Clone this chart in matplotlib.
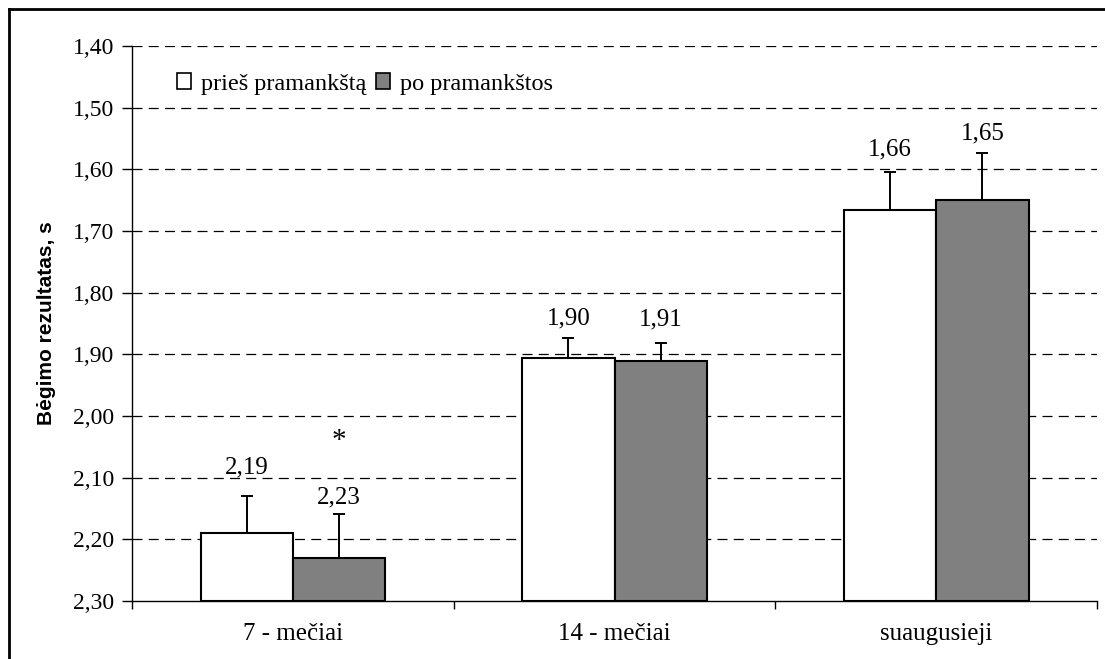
"""Running results before/after warm-up, grouped bars on an inverted time axis."""

import numpy as np
import matplotlib.pyplot as plt
from matplotlib.patches import Patch
from matplotlib.lines import Line2D


# ============================================================
# Data
# ============================================================
groups = ["7 - mečiai", "14 - mečiai", "suaugusieji"]
series_names = ["prieš pramankštą", "po pramankštos"]
before_vals = np.array([2.19, 1.906, 1.666])
after_vals = np.array([2.23, 1.911, 1.650])
before_err = np.array([0.06, 0.032, 0.061])
after_err = np.array([0.071, 0.030, 0.076])
before_labels = ["2,19", "1,90", "1,66"]
after_labels = ["2,23", "1,91", "1,65"]
star_group = 0  # significant change marked with *
star_y = 2.040

y_ticks = np.round(np.arange(1.40, 2.301, 0.10), 2)
y_tick_labels = [f"{v:.2f}".replace(".", ",") for v in y_ticks]
y_label = "Bėgimo rezultatas, s"

# ============================================================
# Plot
# ============================================================
serif = ["Liberation Serif", "DejaVu Serif"]
sans = ["Liberation Sans", "DejaVu Sans"]

# label offsets above the error bar tip (points)
before_off = [21, 14, 16.5]
after_off = [12, 17, 14.5]

fig = plt.figure(figsize=(11.05, 6.59), dpi=100)
ax = fig.add_axes([0.1195, 0.0880, 0.8733, 0.8422])

base = 2.30
x = np.arange(len(groups))
w = 0.287

ax.set_xlim(-0.5, len(groups) - 0.5)
ax.set_ylim(base, 1.40)

# gridlines
for yv in y_ticks[:-1]:
    ax.axhline(yv, color="black", lw=0.9, ls=(0, (8, 5)), zorder=0)

ax.bar(x - w / 2, before_vals - base, bottom=base, width=w,
       color="white", edgecolor="black", lw=1.5, zorder=2)
ax.bar(x + w / 2, after_vals - base, bottom=base, width=w,
       color="#808080", edgecolor="black", lw=1.5, zorder=2)

ax.errorbar(x - w / 2, before_vals, yerr=[before_err, np.zeros_like(before_err)],
            fmt="none", ecolor="black", elinewidth=1.4, capsize=4.5, capthick=1.4, zorder=3)
ax.errorbar(x + w / 2, after_vals, yerr=[after_err, np.zeros_like(after_err)],
            fmt="none", ecolor="black", elinewidth=1.4, capsize=4.5, capthick=1.4, zorder=3)

for xi, v, e, lab, off in zip(x - w / 2, before_vals, before_err, before_labels, before_off):
    ax.annotate(lab, (xi, v - e), xytext=(0, off), textcoords="offset points",
                ha="center", va="center", fontsize=18, family=serif)
for xi, v, e, lab, off in zip(x + w / 2, after_vals, after_err, after_labels, after_off):
    ax.annotate(lab, (xi, v - e), xytext=(0, off), textcoords="offset points",
                ha="center", va="center", fontsize=18, family=serif)

ax.text(x[star_group] + w / 2, star_y, "*", ha="center", va="center",
        fontsize=21, family=serif)

# axes styling
for s in ["top", "right"]:
    ax.spines[s].set_visible(False)
ax.spines["left"].set_linewidth(1.0)
ax.spines["bottom"].set_linewidth(1.0)

ax.set_yticks(y_ticks)
ax.set_yticklabels(y_tick_labels, family=serif, fontsize=17)
ax.tick_params(axis="y", direction="out", length=7, width=1.0, pad=6)

ax.set_xticks(x)
ax.set_xticklabels(groups, family=serif, fontsize=18)
ax.tick_params(axis="x", length=0, pad=16)
ax.set_xticks(np.arange(len(groups) + 1) - 0.5, minor=True)
ax.tick_params(axis="x", which="minor", direction="out", length=6, width=1.0)

ax.set_ylabel(y_label, family=sans, fontsize=15, fontweight="bold", labelpad=12)

handles = [Patch(facecolor="white", edgecolor="black", lw=1.2),
           Patch(facecolor="#808080", edgecolor="black", lw=1.2)]
ax.legend(handles, series_names, loc="upper left", bbox_to_anchor=(0.036, 0.968),
          ncol=2, frameon=False, prop={"family": serif, "size": 17.5},
          handlelength=0.6, handleheight=0.6, handletextpad=0.4,
          columnspacing=0.4, borderaxespad=0)

# outer frame (top and left visible)
fig.add_artist(Line2D([8.5 / 1105, 8.5 / 1105], [0, 1 - 8.5 / 659],
                      transform=fig.transFigure, color="black", lw=2))
fig.add_artist(Line2D([8.5 / 1105, 1], [1 - 8.5 / 659, 1 - 8.5 / 659],
                      transform=fig.transFigure, color="black", lw=2))

fig.savefig("out.png", dpi=100)
